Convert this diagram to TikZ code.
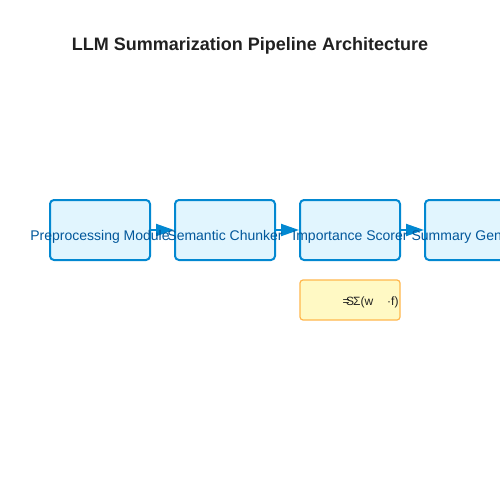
\documentclass[tikz,border=0pt]{standalone}
\usepackage{fontspec}
\setmainfont{Liberation Sans}
\usetikzlibrary{arrows.meta}
\definecolor{boxfill}{HTML}{E1F5FE}
\definecolor{boxline}{HTML}{0288D1}
\definecolor{boxtext}{HTML}{01579B}
\definecolor{formfill}{HTML}{FFF9C4}
\definecolor{formline}{HTML}{FFB74D}
\definecolor{titlecol}{HTML}{212121}
\tikzset{
  stage/.style={draw=boxline, fill=boxfill, line width=2pt, rounded corners=4pt,
    minimum width=100pt, minimum height=60pt, inner sep=0pt},
  stagetext/.style={text=boxtext, font=\fontsize{14pt}{16pt}\selectfont, inner sep=0pt, anchor=base},
  flow/.style={draw=boxline, line width=2pt, -{Triangle[length=18pt,width=12pt]}},
  formbox/.style={draw=formline, fill=formfill, line width=1.2pt, rounded corners=3pt,
    minimum width=100pt, minimum height=40pt, inner sep=0pt},
  formtext/.style={text=titlecol, font=\fontsize{12pt}{14pt}\selectfont, inner sep=0pt, anchor=base west}
}
\begin{document}
\begin{tikzpicture}[x=1pt,y=-1pt]
\useasboundingbox (0,0) rectangle (500,500);
\fill[white] (0,0) rectangle (500,500);
\clip (0,0) rectangle (500,500);
\node[text=titlecol, font=\bfseries\fontsize{18pt}{20pt}\selectfont, anchor=base, inner sep=0pt] (title) at (250,50.5) {LLM Summarization Pipeline Architecture};
\node[stage] (b1) at (100,230) {};
\node[stage] (b2) at (225,230) {};
\node[stage] (b3) at (350,230) {};
\node[stage] (b4) at (475,230) {};
\draw[flow] (b1.east) -- (b2.west);
\draw[flow] (b2.east) -- (b3.west);
\draw[flow] (b3.east) -- (b4.west);
\node[stagetext] (t1) at (100,240) {Preprocessing Module};
\node[stagetext] (t2) at (225,240) {Semantic Chunker};
\node[stagetext] (t3) at (350,240) {Importance Scorer};
\node[stagetext] (t4) at (475,240) {Summary Generator};
\node[formbox] (f) at (350,300) {};
\node[formtext] (f1) at (342.5,305) {=};
\node[formtext] (f2) at (346,305) {S};
\node[formtext] (f3) at (353,305) {Σ(w};
\node[formtext] (f4) at (387,305) {·f)};
\end{tikzpicture}
\end{document}
